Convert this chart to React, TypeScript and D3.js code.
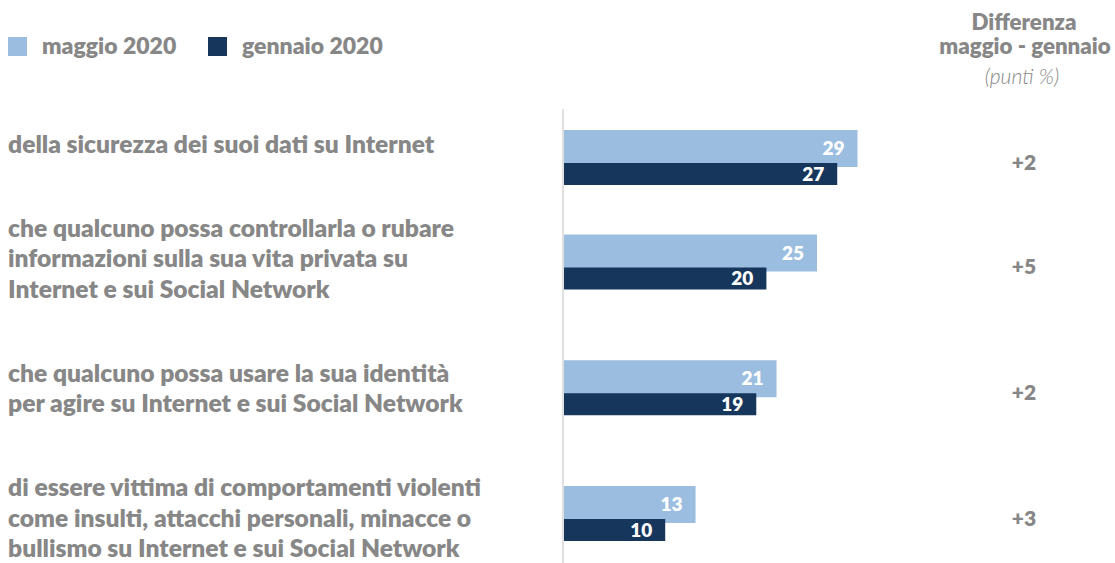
import React from "react";
import * as d3 from "d3";

// ---- data ----
const categoryLines: string[][] = [
  ["della sicurezza dei suoi dati su Internet"],
  [
    "che qualcuno possa controllarla o rubare",
    "informazioni sulla sua vita privata su",
    "Internet e sui Social Network",
  ],
  [
    "che qualcuno possa usare la sua identità",
    "per agire su Internet e sui Social Network",
  ],
  [
    "di essere vittima di comportamenti violenti",
    "come insulti, attacchi personali, minacce o",
    "bullismo su Internet e sui Social Network",
  ],
];
const maggio2020 = [29, 25, 21, 13];
const gennaio2020 = [27, 20, 19, 10];
const seriesNames = ["maggio 2020", "gennaio 2020"];
const headerLines = ["Differenza", "maggio - gennaio"];
const headerNote = "(punti %)";

// ---- style ----
const W = 1115;
const H = 563;
const LIGHT = "#9bbde0";
const DARK = "#16365c";
const GREY = "#878787";
const FONT = "Lato, 'Open Sans', sans-serif";
const HEAVY = 800;

export default function App() {
  const n = categoryLines.length;
  const idx = d3.range(n);

  // x scale
  const x = d3.scaleLinear().domain([0, 30]).range([564, 564 + 303.6]);

  // row layout from label line counts
  const rowH = categoryLines.map((l) => 19.5 + 42.5 * l.length);
  const rowTop = 126.5;
  const rowStart = [0, ...(d3.cumsum(rowH) as unknown as number[])];
  const rowCenter = idx.map((i) => rowTop + rowStart[i] + rowH[i] / 2);

  // label stacking
  const LH = 30.4;
  const labelGap = 84;
  const firstBaselines: number[] = [];
  let b = 153;
  categoryLines.forEach((lines) => {
    firstBaselines.push(b);
    b = b + (lines.length - 1) * LH + labelGap;
  });

  const diff = idx.map((i) => maggio2020[i] - gennaio2020[i]);

  return (
    <svg
      width={W}
      height={H}
      style={{ position: "absolute", left: 0, top: 0, background: "#fff" }}
      fontFamily={FONT}
    >
      {/* legend */}
      {seriesNames.map((s, i) => {
        const lx = i === 0 ? 8 : 208;
        return (
          <g key={s}>
            <rect x={lx} y={37} width={19} height={19} fill={i === 0 ? LIGHT : DARK} />
            <text x={lx + 34} y={54} fontSize={23} fontWeight={HEAVY} fill={GREY}>
              {s}
            </text>
          </g>
        );
      })}

      {/* header */}
      <text textAnchor="middle" fontSize={22.3} fontWeight={HEAVY} fill={GREY}>
        <tspan x={1024} y={30}>{headerLines[0]}</tspan>
        <tspan x={1025} y={54}>{headerLines[1]}</tspan>
      </text>
      <text x={1022} y={84} textAnchor="middle" fontSize={21} fontStyle="italic" fontWeight={300} fill={GREY}>
        {headerNote}
      </text>

      {/* axis line */}
      <rect x={x(0) - 2} y={109} width={2} height={H - 109} fill="#e0e0e0" />

      {/* labels */}
      {categoryLines.map((lines, i) => (
        <text key={i} fontSize={24.6} fontWeight={HEAVY} fill={GREY}>
          {lines.map((l, j) => (
            <tspan key={j} x={8} y={firstBaselines[i] + j * LH}>
              {l}
            </tspan>
          ))}
        </text>
      ))}

      {/* bars */}
      {idx.map((i) => {
        const c = rowCenter[i];
        return (
          <g key={i}>
            <rect x={x(0)} y={c - 27.5} width={x(maggio2020[i]) - x(0)} height={37} fill={LIGHT} />
            <rect x={x(0)} y={c + 5.5} width={x(gennaio2020[i]) - x(0)} height={22} fill={DARK} />
            <text x={x(maggio2020[i]) - 13} y={c - 2.5} textAnchor="end" fontSize={19} fontWeight={HEAVY} fill="#fff">
              {maggio2020[i]}
            </text>
            <text x={x(gennaio2020[i]) - 13} y={c + 23} textAnchor="end" fontSize={19} fontWeight={HEAVY} fill="#fff">
              {gennaio2020[i]}
            </text>
            <text x={1024} y={c + 12} textAnchor="middle" fontSize={21} fontWeight={HEAVY} fill={GREY}>
              {(diff[i] > 0 ? "+" : "") + diff[i]}
            </text>
          </g>
        );
      })}
    </svg>
  );
}
